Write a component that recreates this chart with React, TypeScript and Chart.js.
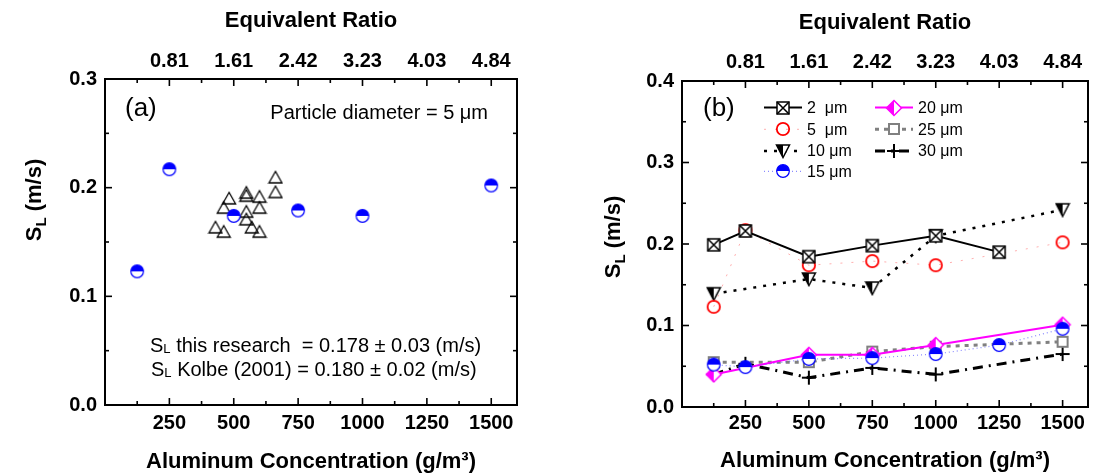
import React, { useEffect, useRef } from 'react';
import { Chart, registerables } from 'chart.js';

Chart.register(...registerables);

const FONT = "'Liberation Sans', Arial, Helvetica, sans-serif";

// ---------- shared axis ticks ----------
const xTickValues = [250, 500, 750, 1000, 1250, 1500];
const xMinorValues = [125, 375, 625, 875, 1125, 1375];
const eqRatioLabels = ['0.81', '1.61', '2.42', '3.23', '4.03', '4.84'];
const yTicksA = [0, 0.1, 0.2, 0.3];
const yMinorA = [0.05, 0.15, 0.25];
const yTicksB = [0, 0.1, 0.2, 0.3, 0.4];
const yMinorB = [0.05, 0.15, 0.25, 0.35];

// ---------- panel (a) ----------
const researchConc = [125, 250, 500, 750, 1000, 1500];
const researchSL = [0.123, 0.217, 0.174, 0.179, 0.174, 0.202];
const kolbeConc = [429, 461, 461, 482, 549, 549, 549, 549, 570, 600, 600, 600, 662, 662];
const kolbeSL = [0.1635, 0.1595, 0.1816, 0.1902, 0.1954, 0.1926, 0.1779, 0.1709, 0.1635, 0.1917, 0.1816, 0.1595, 0.2095, 0.196];

// ---------- panel (b) ----------
const conc2 = [125, 250, 500, 750, 1000, 1250];
const sl2 = [0.199, 0.216, 0.1845, 0.198, 0.21, 0.19];
const conc5 = [125, 250, 500, 750, 1000, 1500];
const sl5 = [0.123, 0.217, 0.174, 0.179, 0.174, 0.202];
const conc10 = [125, 500, 750, 1000, 1500];
const sl10 = [0.139, 0.157, 0.146, 0.21, 0.242];
const conc15 = [125, 250, 500, 750, 1000, 1250, 1500];
const sl15 = [0.052, 0.049, 0.059, 0.06, 0.065, 0.076, 0.096];
const conc20 = [125, 500, 750, 1000, 1500];
const sl20 = [0.04, 0.064, 0.064, 0.076, 0.101];
const conc25 = [125, 500, 750, 1000, 1500];
const sl25 = [0.055, 0.055, 0.068, 0.074, 0.08];
const conc30 = [125, 250, 500, 750, 1000, 1500];
const sl30 = [0.04, 0.053, 0.036, 0.048, 0.04, 0.065];

const seriesLabels = ['2  μm', '5  μm', '10 μm', '15 μm', '20 μm', '25 μm', '30 μm'];

function pts(xs: number[], ys: number[]) {
  return xs.map((x, i) => ({ x, y: ys[i] }));
}

function makeCanvas(w: number, h: number, draw: (c: CanvasRenderingContext2D) => void) {
  const cv = document.createElement('canvas');
  cv.width = w;
  cv.height = h;
  const c = cv.getContext('2d')!;
  draw(c);
  return cv;
}

function makeMarkers() {
  const boxX = makeCanvas(16, 16, (c) => {
    c.fillStyle = '#fff';
    c.fillRect(2, 2, 12, 12);
    c.strokeStyle = '#000';
    c.lineWidth = 1.5;
    c.strokeRect(2, 2, 12, 12);
    c.beginPath();
    c.moveTo(2, 2); c.lineTo(14, 14);
    c.moveTo(14, 2); c.lineTo(2, 14);
    c.stroke();
  });
  const redCircle = makeCanvas(16, 16, (c) => {
    c.strokeStyle = '#ff0000';
    c.lineWidth = 1.8;
    c.beginPath();
    c.arc(8, 8, 6.2, 0, Math.PI * 2);
    c.stroke();
  });
  const triDownHalf = makeCanvas(16, 16, (c) => {
    c.fillStyle = '#fff';
    c.beginPath(); c.moveTo(1.5, 2); c.lineTo(14.5, 2); c.lineTo(8, 14.5); c.closePath(); c.fill();
    c.fillStyle = '#000';
    c.beginPath(); c.moveTo(1.5, 2); c.lineTo(8, 2); c.lineTo(8, 14.5); c.closePath(); c.fill();
    c.strokeStyle = '#000'; c.lineWidth = 1.5;
    c.beginPath(); c.moveTo(1.5, 2); c.lineTo(14.5, 2); c.lineTo(8, 14.5); c.closePath(); c.stroke();
  });
  const blueHalf = makeCanvas(16, 16, (c) => {
    c.fillStyle = '#fff';
    c.beginPath(); c.arc(8, 8, 6.3, 0, Math.PI * 2); c.fill();
    c.fillStyle = '#0000ff';
    c.beginPath(); c.arc(8, 8, 6.3, Math.PI, Math.PI * 2); c.closePath(); c.fill();
    c.strokeStyle = '#0000ff'; c.lineWidth = 1.2;
    c.beginPath(); c.arc(8, 8, 6.3, 0, Math.PI * 2); c.stroke();
  });
  const diamondHalf = makeCanvas(18, 18, (c) => {
    c.fillStyle = '#fff';
    c.beginPath(); c.moveTo(9, 1.5); c.lineTo(16.5, 9); c.lineTo(9, 16.5); c.lineTo(1.5, 9); c.closePath(); c.fill();
    c.fillStyle = '#ff00ff';
    c.beginPath(); c.moveTo(9, 1.5); c.lineTo(9, 16.5); c.lineTo(1.5, 9); c.closePath(); c.fill();
    c.strokeStyle = '#ff00ff'; c.lineWidth = 1.5;
    c.beginPath(); c.moveTo(9, 1.5); c.lineTo(16.5, 9); c.lineTo(9, 16.5); c.lineTo(1.5, 9); c.closePath(); c.stroke();
  });
  const graySquare = makeCanvas(14, 14, (c) => {
    c.fillStyle = '#fff';
    c.fillRect(2, 2, 10, 10);
    c.strokeStyle = '#808080'; c.lineWidth = 2;
    c.strokeRect(2, 2, 10, 10);
  });
  const plus = makeCanvas(16, 16, (c) => {
    c.strokeStyle = '#000'; c.lineWidth = 2;
    c.beginPath(); c.moveTo(1, 8); c.lineTo(15, 8); c.moveTo(8, 1); c.lineTo(8, 15); c.stroke();
  });
  const triUp = makeCanvas(16, 15, (c) => {
    c.strokeStyle = '#000'; c.lineWidth = 1.3;
    c.beginPath(); c.moveTo(8, 1.5); c.lineTo(14.5, 13); c.lineTo(1.5, 13); c.closePath(); c.stroke();
  });
  return { boxX, redCircle, triDownHalf, blueHalf, diamondHalf, graySquare, plus, triUp };
}

function xBottom(height: number, pad: number, titlePad: number) {
  return {
    type: 'linear', position: 'bottom', min: 0, max: 1600,
    grid: { display: false, drawTicks: false }, border: { display: false },
    afterBuildTicks: (s: any) => { s.ticks = xTickValues.map((v) => ({ value: v })); },
    ticks: { autoSkip: false, maxRotation: 0, minRotation: 0, padding: pad, color: '#000', font: { size: 20, weight: 'bold' }, callback: (v: any) => String(v) },
    title: { display: true, text: 'Aluminum Concentration (g/m³)', color: '#000', font: { size: 22, weight: 'bold' }, padding: { top: 0, bottom: titlePad } },
    afterFit: (s: any) => { s.height = height; },
  };
}

function xTop(height: number, pad: number, titlePad: number) {
  return {
    type: 'linear', position: 'top', axis: 'x', min: 0, max: 1600,
    grid: { display: false, drawTicks: false }, border: { display: false },
    afterBuildTicks: (s: any) => { s.ticks = xTickValues.map((v) => ({ value: v })); },
    ticks: { autoSkip: false, maxRotation: 0, minRotation: 0, padding: pad, color: '#000', font: { size: 20, weight: 'bold' }, callback: (_v: any, i: number) => eqRatioLabels[i] },
    title: { display: true, text: 'Equivalent Ratio', color: '#000', font: { size: 22, weight: 'bold' }, padding: { top: titlePad, bottom: 0 } },
    afterFit: (s: any) => { s.height = height; },
  };
}

function yLeft(width: number, max: number, ticks: number[]) {
  return {
    type: 'linear', position: 'left', min: 0, max,
    grid: { display: false, drawTicks: false }, border: { display: false },
    afterBuildTicks: (s: any) => { s.ticks = ticks.map((v) => ({ value: v })); },
    ticks: { padding: 8, color: '#000', font: { size: 20, weight: 'bold' }, callback: (v: any) => Number(v).toFixed(1) },
    afterFit: (s: any) => { s.width = width; },
  };
}

function drawYTitle(ctx: CanvasRenderingContext2D, cx: number, cy: number) {
  ctx.save();
  ctx.translate(cx, cy);
  ctx.rotate(-Math.PI / 2);
  ctx.fillStyle = '#000';
  ctx.textBaseline = 'alphabetic';
  ctx.textAlign = 'left';
  const big = `bold 22px ${FONT}`;
  const small = `bold 15px ${FONT}`;
  ctx.font = big;
  const wS = ctx.measureText('S').width;
  const wR = ctx.measureText(' (m/s)').width;
  ctx.font = small;
  const wL = ctx.measureText('L').width;
  let x = -(wS + wL + wR) / 2;
  const base = 8;
  ctx.font = big; ctx.fillText('S', x, base); x += wS;
  ctx.font = small; ctx.fillText('L', x, base + 5); x += wL;
  ctx.font = big; ctx.fillText(' (m/s)', x, base);
  ctx.restore();
}

function drawSLText(ctx: CanvasRenderingContext2D, x: number, base: number, rest: string) {
  ctx.save();
  ctx.fillStyle = '#000';
  ctx.textAlign = 'left';
  ctx.textBaseline = 'alphabetic';
  ctx.font = `20px ${FONT}`;
  ctx.fillText('S', x, base);
  let cx = x + ctx.measureText('S').width;
  ctx.font = `13px ${FONT}`;
  ctx.fillText('L', cx, base + 1);
  cx += ctx.measureText('L').width;
  ctx.font = `20px ${FONT}`;
  ctx.fillText(rest, cx, base);
  ctx.restore();
}

function decoPlugin(cfg: any) {
  return {
    id: 'deco',
    afterDraw(chart: any) {
      const { ctx, chartArea: a, scales } = chart;
      const xs = scales.x;
      const ys = scales.y;
      const MAJ = 7;
      const MIN = 4;
      ctx.save();
      ctx.strokeStyle = '#000';
      ctx.lineWidth = 1.6;
      ctx.setLineDash([]);
      const seg = (x1: number, y1: number, x2: number, y2: number) => {
        ctx.beginPath(); ctx.moveTo(x1, y1); ctx.lineTo(x2, y2); ctx.stroke();
      };
      xTickValues.forEach((v) => {
        const px = xs.getPixelForValue(v);
        seg(px, a.bottom, px, a.bottom - MAJ);
        seg(px, a.top, px, a.top + MAJ);
      });
      xMinorValues.forEach((v) => {
        const px = xs.getPixelForValue(v);
        seg(px, a.bottom, px, a.bottom - MIN);
        seg(px, a.top, px, a.top + MIN);
      });
      cfg.yMajor.forEach((v: number) => {
        const py = ys.getPixelForValue(v);
        seg(a.left, py, a.left + MAJ, py);
        seg(a.right, py, a.right - MAJ, py);
      });
      cfg.yMinor.forEach((v: number) => {
        const py = ys.getPixelForValue(v);
        seg(a.left, py, a.left + MIN, py);
        seg(a.right, py, a.right - MIN, py);
      });
      ctx.lineWidth = 2;
      ctx.strokeRect(a.left, a.top, a.right - a.left, a.bottom - a.top);
      ctx.restore();

      drawYTitle(ctx, a.left - cfg.yTitleDx, cfg.yTitleY);
      cfg.extra(ctx, a, chart);
    },
  };
}

function configA(mk: any) {
  return {
    type: 'scatter',
    data: {
      datasets: [
        { label: 'this research', data: pts(researchConc, researchSL), pointStyle: mk.blueHalf, pointRadius: 6, showLine: false },
        { label: 'Kolbe (2001)', data: pts(kolbeConc, kolbeSL), pointStyle: mk.triUp, pointRadius: 6, showLine: false },
      ],
    },
    options: {
      responsive: false,
      animation: false,
      layout: { padding: { left: 0, right: 31, top: 0, bottom: 0 } },
      plugins: { legend: { display: false }, tooltip: { enabled: false } },
      scales: {
        x: xBottom(70, 6, 0),
        xTop: xTop(79, 6, 8),
        y: yLeft(105, 0.3, yTicksA),
      },
    },
    plugins: [
      decoPlugin({
        yMajor: yTicksA, yMinor: yMinorA, yTitleDx: 72, yTitleY: 200,
        extra: (ctx: CanvasRenderingContext2D, a: any) => {
          ctx.save();
          ctx.fillStyle = '#000';
          ctx.font = `26px ${FONT}`;
          ctx.textAlign = 'left';
          ctx.textBaseline = 'middle';
          ctx.fillText('(a)', a.left + 20, a.top + 30);
          ctx.font = `20px ${FONT}`;
          ctx.textAlign = 'right';
          ctx.textBaseline = 'alphabetic';
          ctx.fillText('Particle diameter = 5 μm', a.left + 383, a.top + 40);
          ctx.restore();
          drawSLText(ctx, a.left + 45, a.top + 273, ' this research  = 0.178 ± 0.03 (m/s)');
          drawSLText(ctx, a.left + 46, a.top + 297, ' Kolbe (2001) = 0.180 ± 0.02 (m/s)');
        },
      }),
    ],
  };
}

function configB(mk: any) {
  const common = { pointRadius: 6, showLine: true, tension: 0, fill: false };
  const datasets = [
    { ...common, label: seriesLabels[0], data: pts(conc2, sl2), pointStyle: mk.boxX, borderColor: '#000000', borderWidth: 2, borderDash: [] },
    { ...common, label: seriesLabels[1], data: pts(conc5, sl5), pointStyle: mk.redCircle, borderColor: 'rgba(255,110,110,0.55)', borderWidth: 1, borderDash: [2, 9] },
    { ...common, label: seriesLabels[2], data: pts(conc10, sl10), pointStyle: mk.triDownHalf, borderColor: '#000000', borderWidth: 2.5, borderDash: [3, 7] },
    { ...common, label: seriesLabels[3], data: pts(conc15, sl15), pointStyle: mk.blueHalf, borderColor: 'rgba(90,90,255,0.7)', borderWidth: 1.2, borderDash: [1, 3] },
    { ...common, label: seriesLabels[4], data: pts(conc20, sl20), pointStyle: mk.diamondHalf, borderColor: '#ff00ff', borderWidth: 2, borderDash: [] },
    { ...common, label: seriesLabels[5], data: pts(conc25, sl25), pointStyle: mk.graySquare, borderColor: '#808080', borderWidth: 3, borderDash: [4, 5] },
    { ...common, label: seriesLabels[6], data: pts(conc30, sl30), pointStyle: mk.plus, borderColor: '#000000', borderWidth: 3, borderDash: [10, 6, 2, 6] },
  ];
  const legendPos = [
    [82, 26.5], [82, 48.3], [82, 70], [82, 90.3],
    [193, 26.5], [193, 48.3], [193, 70],
  ];
  return {
    type: 'scatter',
    data: { datasets },
    options: {
      responsive: false,
      animation: false,
      layout: { padding: { left: 0, right: 4, top: 0, bottom: 0 } },
      plugins: { legend: { display: false }, tooltip: { enabled: false } },
      scales: {
        x: xBottom(68, 4, 1),
        xTop: xTop(81, 7, 10),
        y: yLeft(134, 0.4, yTicksB),
      },
    },
    plugins: [
      decoPlugin({
        yMajor: yTicksB, yMinor: yMinorB, yTitleDx: 70, yTitleY: 237,
        extra: (ctx: CanvasRenderingContext2D, a: any, chart: any) => {
          ctx.save();
          ctx.fillStyle = '#000';
          ctx.font = `26px ${FONT}`;
          ctx.textAlign = 'left';
          ctx.textBaseline = 'middle';
          ctx.fillText('(b)', a.left + 21, a.top + 28);
          chart.data.datasets.forEach((ds: any, i: number) => {
            const [dx, dy] = legendPos[i];
            const x0 = a.left + dx;
            const y = a.top + dy;
            ctx.save();
            ctx.strokeStyle = ds.borderColor;
            ctx.lineWidth = ds.borderWidth;
            ctx.setLineDash(ds.borderDash);
            ctx.beginPath();
            ctx.moveTo(x0, y);
            ctx.lineTo(x0 + 38, y);
            ctx.stroke();
            ctx.restore();
            const img = ds.pointStyle;
            ctx.drawImage(img, Math.round(x0 + 19 - img.width / 2), Math.round(y - img.height / 2));
            ctx.fillStyle = '#000';
            ctx.font = `16px ${FONT}`;
            ctx.textAlign = 'left';
            ctx.textBaseline = 'middle';
            ctx.fillText(ds.label, x0 + 43, y + 1);
          });
          ctx.restore();
        },
      }),
    ],
  };
}

export default function App() {
  const refA = useRef<HTMLCanvasElement>(null);
  const refB = useRef<HTMLCanvasElement>(null);
  useEffect(() => {
    Chart.defaults.font.family = FONT;
    Chart.defaults.color = '#000';
    const mk = makeMarkers();
    const ca = new Chart(refA.current as HTMLCanvasElement, configA(mk) as any);
    const cb = new Chart(refB.current as HTMLCanvasElement, configB(mk) as any);
    return () => {
      ca.destroy();
      cb.destroy();
    };
  }, []);
  return (
    <div style={{ position: 'absolute', left: 0, top: 0, width: 1097, height: 475, background: '#fff' }}>
      <canvas ref={refA} width={548} height={475} style={{ position: 'absolute', left: 0, top: 0, width: 548, height: 475 }} />
      <canvas ref={refB} width={549} height={475} style={{ position: 'absolute', left: 548, top: 0, width: 549, height: 475 }} />
    </div>
  );
}
